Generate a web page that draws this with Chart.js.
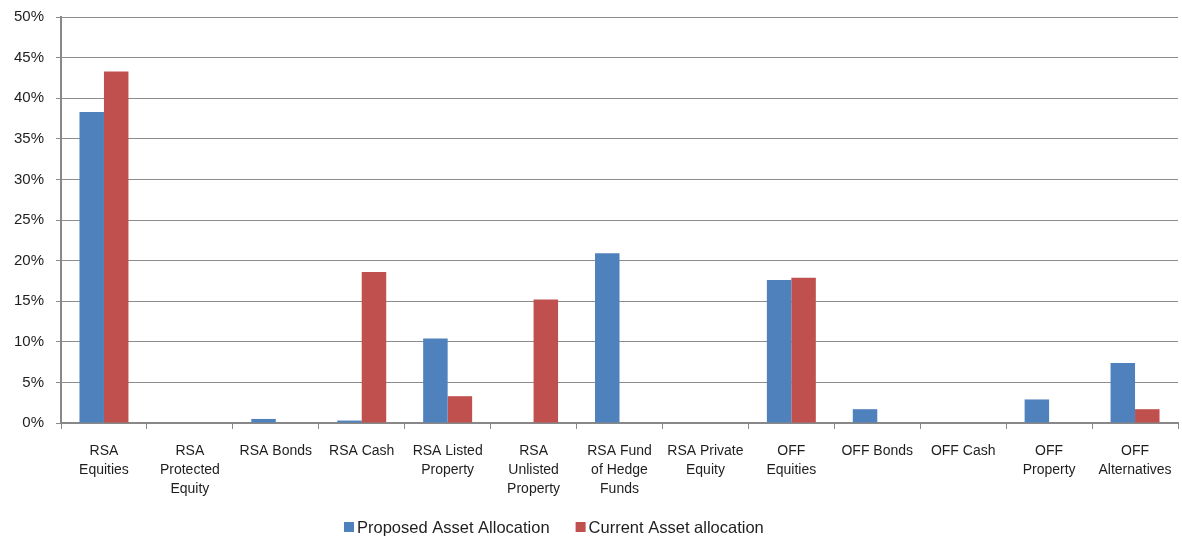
<!DOCTYPE html>
<html>
<head>
<meta charset="utf-8">
<script src="https://cdn.jsdelivr.net/npm/chart.js@4/dist/chart.umd.min.js"></script>
<style>
  html, body { margin: 0; padding: 0; background: #fff; }
  #wrap { width: 1182px; height: 538px; position: relative; }
</style>
</head>
<body>
<div id="wrap"><canvas id="c"></canvas></div>
<script>
// Asset classes (multi-line axis labels)
const categories = [
  ["RSA", "Equities"],
  ["RSA", "Protected", "Equity"],
  ["RSA Bonds"],
  ["RSA Cash"],
  ["RSA Listed", "Property"],
  ["RSA", "Unlisted", "Property"],
  ["RSA Fund", "of Hedge", "Funds"],
  ["RSA Private", "Equity"],
  ["OFF", "Equities"],
  ["OFF Bonds"],
  ["OFF Cash"],
  ["OFF", "Property"],
  ["OFF", "Alternatives"]
];

// Allocation weights, in percent
const proposedAllocation = [38.3, 0, 0.5, 0.3, 10.4, 0, 20.9, 0, 17.6, 1.7, 0, 2.9, 7.4];
const currentAllocation  = [43.3, 0, 0, 18.6, 3.3, 15.2, 0, 0, 17.9, 0, 0, 0, 1.7];

// Y-axis tick values, in percent
const yTicks = [0, 5, 10, 15, 20, 25, 30, 35, 40, 45, 50];

const FONT = "'Liberation Sans', Arial, sans-serif";
const TEXT = '#1e1e1e';

// Legend row under the axis: small square swatch followed by the series name
const bottomLegend = {
  id: 'bottomLegend',
  afterDraw(chart) {
    const ctx = chart.ctx;
    ctx.save();
    ctx.font = `16.5px ${FONT}`;
    ctx.textBaseline = 'middle';
    ctx.textAlign = 'left';
    const y = 527;
    let x = 344;
    chart.data.datasets.forEach(ds => {
      ctx.fillStyle = ds.backgroundColor;
      ctx.fillRect(x, y - 5, 10, 10);
      ctx.fillStyle = TEXT;
      ctx.fillText(ds.label, x + 13, y + 1);
      x += 13 + ctx.measureText(ds.label).width + 26;
    });
    ctx.restore();
  }
};

new Chart(document.getElementById('c'), {
  type: 'bar',
  data: {
    labels: categories,
    datasets: [
      { label: 'Proposed Asset Allocation', data: proposedAllocation, backgroundColor: '#4F81BD' },
      { label: 'Current Asset allocation', data: currentAllocation, backgroundColor: '#C0504D' }
    ]
  },
  plugins: [bottomLegend],
  options: {
    responsive: true,
    maintainAspectRatio: false,
    animation: false,
    layout: { padding: { top: 17, right: 4, left: 0, bottom: 35 } },
    datasets: { bar: { categoryPercentage: 0.57, barPercentage: 1.0 } },
    plugins: {
      tooltip: { enabled: false },
      legend: { display: false }
    },
    scales: {
      x: {
        offset: true,
        grid: { offset: true, drawOnChartArea: false, drawTicks: true, tickLength: 6, color: '#888', lineWidth: 1 },
        border: { color: '#888', width: 2 },
        ticks: {
          color: TEXT, maxRotation: 0, autoSkip: false, padding: 12,
          font: { family: FONT, size: 14, lineHeight: 1.38 }
        },
        afterFit(scale) {
          scale.height = 80;
          scale.paddingLeft = 0;
          scale.paddingRight = 0;
        }
      },
      y: {
        min: 0, max: 50,
        afterBuildTicks(scale) { scale.ticks = yTicks.map(v => ({ value: v })); },
        grid: { color: '#8c8c8c', lineWidth: 1, tickLength: 5, drawTicks: true },
        border: { color: '#888', width: 2 },
        ticks: {
          color: TEXT, padding: 12,
          font: { family: FONT, size: 15 },
          callback: v => v + '%'
        },
        afterFit(scale) {
          scale.width = 61;
          scale.paddingTop = 0;
          scale.paddingBottom = 0;
        }
      }
    }
  }
});
</script>
</body>
</html>
